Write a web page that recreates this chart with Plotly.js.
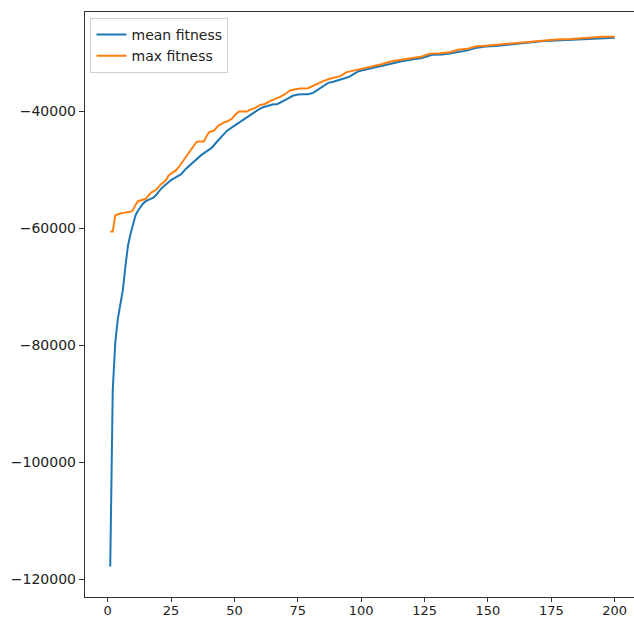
<!DOCTYPE html>
<html>
<head>
<meta charset="utf-8">
<script src="https://cdn.plot.ly/plotly-3.0.1.min.js"></script>
<style>html,body{margin:0;padding:0;background:#fff;}#chart{width:634px;height:617px;}</style>
</head>
<body>
<div id="chart"></div>
<script>
// Mean fitness (generation, value)
const meanGen = [1,2,3,4,5,6,7,8,9,10,11,12,13,14,15,16,17,18,19,20,21,22,23,24,25,27,29,31,33,35,37,39,41,43,45,47,49,51,53,55,57,59,61,63,65,67,69,71,73,75,77,79,81,83,85,87,89,91,93,95,97,99,101,104,108,112,116,120,124,128,132,136,139,142,145,149,153,157,162,167,172,177,183,189,195,200];
const meanFit = [-117800,-87600,-79500,-75500,-73000,-70500,-66500,-63000,-61000,-59200,-57800,-57000,-56300,-55800,-55400,-55200,-55100,-54800,-54400,-53800,-53300,-52900,-52500,-52100,-51800,-51300,-50800,-49800,-49000,-48300,-47500,-46900,-46300,-45300,-44300,-43400,-42800,-42200,-41700,-41100,-40500,-39900,-39400,-39100,-38900,-38800,-38400,-37900,-37400,-37200,-37150,-37150,-36900,-36300,-35700,-35200,-35000,-34700,-34400,-34200,-33700,-33200,-33000,-32700,-32300,-31800,-31500,-31200,-30950,-30400,-30350,-30100,-29850,-29650,-29250,-29000,-28900,-28700,-28450,-28250,-28050,-27950,-27850,-27700,-27600,-27500];

// Max fitness (generation, value)
const maxGen = [1,2,3,4,5,6,7,8,9,10,11,12,13,14,15,16,17,18,19,20,21,22,23,24,25,26,27,28,29,30,31,32,33,34,35,36,37,38,39,40,41,42,43,44,45,46,47,48,49,50,51,52,53,55,56,58,60,62,64,66,68,70,72,74,76,79,81,83,85,88,90,92,94,96,98,101,104,108,112,116,120,124,127,131,135,138,142,145,149,153,157,162,167,172,177,183,188,190,195,200];
const maxFit = [-60600,-60600,-57800,-57600,-57500,-57400,-57300,-57300,-57200,-56900,-56000,-55400,-55300,-55200,-55000,-54500,-54000,-53700,-53500,-53000,-52500,-52200,-51800,-51000,-50700,-50300,-50100,-49600,-49000,-48400,-47800,-47000,-46400,-45900,-45300,-45200,-45200,-45200,-44300,-43600,-43500,-43300,-42800,-42400,-42200,-41900,-41800,-41500,-41300,-40800,-40300,-40100,-40100,-40100,-39800,-39500,-39000,-38800,-38300,-38000,-37600,-37100,-36500,-36300,-36150,-36100,-35700,-35200,-34900,-34450,-34200,-34000,-33400,-33200,-33000,-32700,-32500,-32000,-31500,-31250,-30950,-30700,-30200,-30150,-29950,-29550,-29350,-29000,-28850,-28700,-28500,-28280,-28100,-27920,-27800,-27700,-27550,-27380,-27330,-27300];

const seriesNames = ['mean fitness', 'max fitness'];
const xTicks = [0,25,50,75,100,125,150,175,200];
const yTicks = [-120000,-100000,-80000,-60000,-40000];

const font = {family: 'DejaVu Sans, sans-serif', size: 14, color: '#222'};
const xFont = {family: 'DejaVu Sans, sans-serif', size: 13, color: '#222'};

const traces = [
  {x: meanGen, y: meanFit, name: seriesNames[0], mode: 'lines',
   line: {color: '#1f77b4', width: 2}},
  {x: maxGen, y: maxFit, name: seriesNames[1], mode: 'lines',
   line: {color: '#ff7f0e', width: 2}}
];

const layout = {
  width: 634, height: 617,
  margin: {l: 85, r: 0, t: 12, b: 20},
  paper_bgcolor: '#fff', plot_bgcolor: '#fff',
  font: font,
  showlegend: true,
  legend: {x: 0.01, y: 0.99, xanchor: 'left', yanchor: 'top',
           bgcolor: 'rgba(255,255,255,0.9)', bordercolor: '#d0d0d0', borderwidth: 1,
           tracegroupgap: 0, font: font},
  xaxis: {range: [-8.95, 207.6], tickvals: xTicks, ticktext: xTicks.map(String),
          showgrid: false, zeroline: false, showline: true, linecolor: '#333', linewidth: 1.2,
          mirror: true, ticks: 'outside', ticklen: 4, tickcolor: '#333', tickfont: xFont,
          ticklabelstandoff: -3},
  yaxis: {range: [-123006, -23091], tickvals: yTicks,
          tickformat: 'd',
          showgrid: false, zeroline: false, showline: true, linecolor: '#333', linewidth: 1.2,
          mirror: false, ticks: 'outside', ticklen: 5, tickcolor: '#333', tickfont: font}
};

Plotly.newPlot('chart', traces, layout, {displayModeBar: false, staticPlot: true});
</script>
</body>
</html>
